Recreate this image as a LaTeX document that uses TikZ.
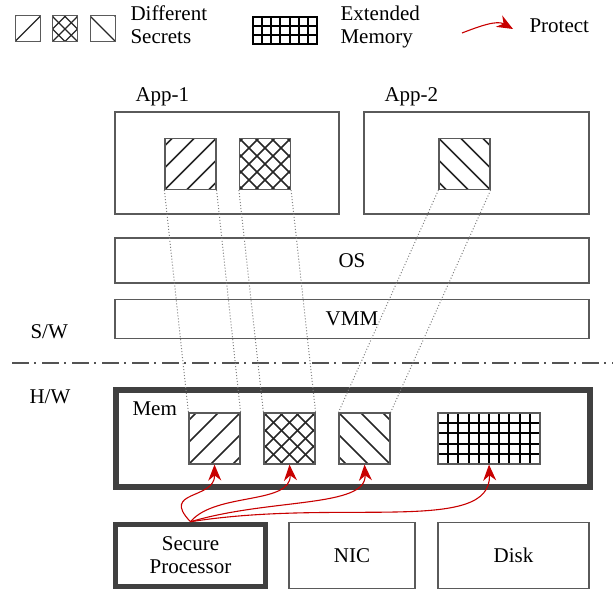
\documentclass[tikz,border=0pt]{standalone}
\usepackage{fontspec}
\setmainfont{Liberation Serif}
\usepackage{xcolor}
\usepackage{tikz}
\usetikzlibrary{arrows.meta, positioning}

\definecolor{boxgray}{HTML}{5A5A5A}
\definecolor{thickgray}{HTML}{404040}
\definecolor{protred}{HTML}{C80000}
\definecolor{linkgray}{HTML}{808080}

\begin{document}
\begin{tikzpicture}[x=1pt, y=-1pt, node distance=75pt, on grid,
        font=\fontsize{21}{23}\selectfont,
        >={Stealth[length=16pt, width=13pt]},
        layer/.style={draw=boxgray, line width=1.3pt, inner sep=0pt},
        hwbox/.style={draw=thickgray, line width=5.5pt, inner sep=0pt},
        secret/.style={draw=boxgray, line width=1.2pt, minimum size=51pt, inner sep=0pt},
        keysq/.style={draw=boxgray, line width=1pt, minimum width=25pt, minimum height=26pt, inner sep=0pt},
        stripe/.style={draw=black!85, line width=1.7pt},
        gridline/.style={draw=black, line width=1.9pt},
        fwd/.style={path picture={\foreach \k in {-5,...,5}
            \draw[stripe] ([xshift=\k*#1 pt]path picture bounding box.center) +(-40pt,-40pt) -- +(40pt,40pt);}},
        bwd/.style={path picture={\foreach \k in {-5,...,5}
            \draw[stripe] ([xshift=\k*#1 pt]path picture bounding box.center) +(-40pt,40pt) -- +(40pt,-40pt);}},
        cross/.style={path picture={\foreach \k in {-5,...,5} {
            \draw[stripe] ([xshift=\k*#1 pt]path picture bounding box.center) +(-40pt,-40pt) -- +(40pt,40pt);
            \draw[stripe] ([xshift=\k*#1 pt]path picture bounding box.center) +(-40pt,40pt) -- +(40pt,-40pt);}}},
        cells/.style n args={3}{path picture={
            \foreach \i in {0,...,#2}
              \draw[gridline] ([xshift=\i*#1 pt]path picture bounding box.south west) -- ([xshift=\i*#1 pt]path picture bounding box.north west);
            \foreach \j in {0,...,#3}
              \draw[gridline] ([yshift=\j*#1 pt]path picture bounding box.south west) -- ([yshift=\j*#1 pt]path picture bounding box.south east);}},
        hwsplit/.style={draw=thickgray!90, line width=2.5pt, dash pattern=on 17pt off 5pt on 2pt off 6pt},
        link/.style={draw=linkgray, line width=1pt, dash pattern=on 1pt off 2pt},
        protect/.style={draw=protred, fill=none, line width=1.1pt, ->}]
    \useasboundingbox (0,0) rectangle (613,591);

    % legend
    \node[keysq, fwd=25, stripe/.append style={line width=1.1pt}] (key1) at (27.5,29) {};
    \node[keysq, cross=12.5, stripe/.append style={line width=1.1pt}] (key2) at (65,29) {};
    \node[keysq, bwd=25, stripe/.append style={line width=1.1pt}] (key3) at (103,29) {};
    \node[anchor=base west, align=left] (keysecret) at (127,44) {Different\\Secrets};
    \node[draw=black, line width=1.9pt, inner sep=0pt, minimum width=64.4pt, minimum height=27.6pt, cells={9.2}{7}{3}] (keyext) at (285,30.5) {};
    \node[anchor=base west, align=left] (keyextlbl) at (337,44) {Extended\\Memory};
    \coordinate (protfrom) at (462,33);
    \coordinate (protto) at (513,29);
    \draw[protect] (protfrom) .. controls (480,26) and (497,20) .. (protto);
    \node[anchor=base west] (protlbl) at (526,33) {Protect};

    % software side
    \node[anchor=base west] (app1lbl) at (132,102) {App-1};
    \node[anchor=base west] (app2lbl) at (381,102) {App-2};
    \node[layer, minimum width=224pt, minimum height=102pt] (app1) at (227,163) {};
    \node[layer, minimum width=225pt, minimum height=102pt] (app2) at (476.5,163) {};
    \node[secret, fwd=22] (s1) at (190.5,164) {};
    \node[secret, cross=16, right=74.5pt of s1] (s2) {};
    \node[secret, bwd=22] (s3) at (464.5,164) {};
    \node[layer, minimum width=474pt, minimum height=45pt] (os) at (352,260.5) {OS};
    \node[layer, minimum width=474pt, minimum height=39pt] (vmm) at (352,319) {VMM};
    \node[anchor=base west] (swlbl) at (27,338) {S/W};

    \coordinate (splitl) at (12,363);
    \coordinate (splitr) at (613,363);
    \draw[hwsplit] (splitl) -- (splitr);

    % hardware side
    \node[anchor=base west] (hwlbl) at (26,403) {H/W};
    \node[hwbox, minimum width=474pt, minimum height=97pt] (mem) at (353,438.5) {};
    \node[anchor=base west] (memlbl) at (129,415) {Mem};
    \node[secret, fwd=22] (m1) at (214.5,438.5) {};
    \node[secret, cross=16, right=of m1] (m2) {};
    \node[secret, bwd=22, right=of m2] (m3) {};
    \node[draw=boxgray, line width=1.2pt, inner sep=0pt, minimum width=102pt, minimum height=51pt, cells={10.2}{10}{5}] (ext) at (489,438.5) {};
    \node[hwbox, minimum width=150pt, minimum height=62pt, align=center] (secure) at (190.5,555.5) {Secure\\Processor};
    \node[layer, minimum width=126pt, minimum height=66pt, right=161.5pt of secure] (nic) {NIC};
    \node[layer, minimum width=151pt, minimum height=66pt, right=161.5pt of nic] (disk) {Disk};

    % secrets mapped into memory
    \draw[link] (s1.south west) -- (m1.north west);
    \draw[link] (s1.south east) -- (m1.north east);
    \draw[link] (s2.south west) -- (m2.north west);
    \draw[link] (s2.south east) -- (m2.north east);
    \draw[link] (s3.south west) -- (m3.north west);
    \draw[link] (s3.south east) -- (m3.north east);

    \draw[protect] (secure.north) .. controls (160,490) and (215,500) .. (m1.south);
    \draw[protect] (secure.north) .. controls (215,492) and (292,505) .. (m2.south);
    \draw[protect] (secure.north) .. controls (270,498) and (367,508) .. (m3.south);
    \draw[protect] (secure.north) .. controls (340,498) and (492,535) .. (ext.south);
\end{tikzpicture}
\end{document}
